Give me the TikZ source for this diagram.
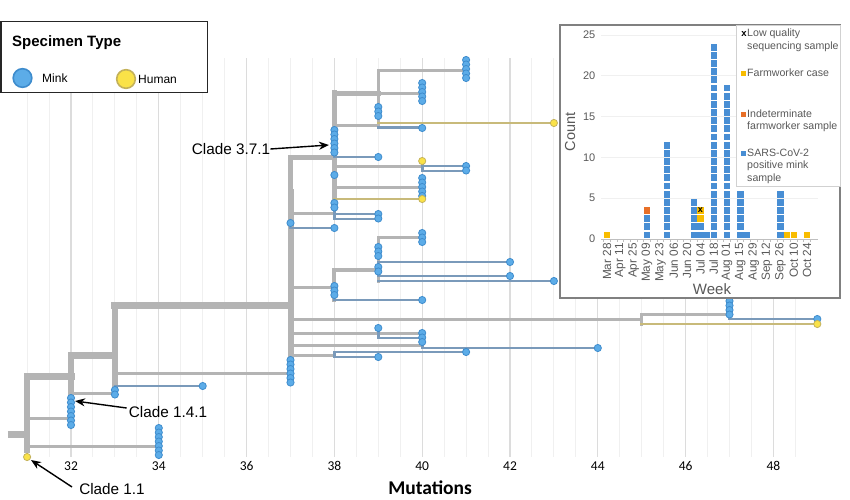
\documentclass[tikz,border=0pt]{standalone}
\usepackage{fontspec}
\setmainfont{Liberation Sans}
\newfontfamily\calibri{Carlito}
\usetikzlibrary{arrows.meta}

\definecolor{branchgray}{RGB}{180,180,180}
\definecolor{minkline}{RGB}{122,154,186}
\definecolor{humanline}{RGB}{200,186,122}
\definecolor{minkfill}{RGB}{92,172,232}
\definecolor{minkdraw}{RGB}{62,140,205}
\definecolor{humanfill}{RGB}{250,226,72}
\definecolor{humandraw}{RGB}{196,178,90}
\definecolor{gridlo}{RGB}{240,240,240}
\definecolor{gridhi}{RGB}{220,220,220}
\definecolor{barblue}{RGB}{72,142,212}
\definecolor{baryellow}{RGB}{248,188,0}
\definecolor{barorange}{RGB}{232,112,40}
\definecolor{charttext}{RGB}{89,89,89}

\tikzset{
  thickbr/.style={draw=branchgray, line width=7pt, line cap=rect},
  midbr/.style={draw=branchgray, line width=5pt, line cap=rect},
  br/.style={draw=branchgray, line width=3pt, line cap=rect},
  minkbr/.style={draw=minkline, line width=2.6pt, line cap=rect},
  humanbr/.style={draw=humanline, line width=2.6pt, line cap=rect},
  minkdot/.style={fill=minkfill, draw=minkdraw, line width=0.8pt},
  humandot/.style={fill=humanfill, draw=humandraw, line width=0.8pt},
  ticklab/.style={font=\calibri\fontsize{13.5}{16}\selectfont, inner sep=0pt},
  cladelab/.style={font=\fontsize{15.3}{18}\selectfont, inner sep=0pt},
  pointer/.style={-{Stealth[length=10pt, width=8pt]}, line width=1.4pt},
  charttxt/.style={font=\fontsize{10.6}{12}\selectfont, text=charttext, inner sep=0pt, anchor=west},
  weeklab/.style={font=\fontsize{11.8}{14}\selectfont, text=charttext, inner sep=0pt, rotate=90, anchor=east}
}

\newcommand{\minkstack}[3]{\foreach \j in {1,...,#3}{\filldraw[minkdot] (#1,{#2+(\j-1)*4.5}) circle (3.6pt);}}
\newcommand{\humantip}[2]{\filldraw[humandot] (#1,#2) circle (3.6pt);}
\newcommand{\barsq}[3]{\fill[#3] ({607+#1*6.67-3.2},{239-(#2-1)*8.16-0.7}) rectangle ++(6.4,-6.8);}

\begin{document}
\begin{tikzpicture}[x=1pt, y=-1pt]
  \useasboundingbox[fill=white] (0,0) rectangle (850,499);

  % tree, x in mutations
  \begin{scope}[x=43.9pt, xshift=-1333.8pt]
    \foreach \m in {31,31.5,...,48.5} \draw[gridlo, line width=1pt] (\m,58) -- (\m,457);
    \foreach \m in {32,34,...,48} {
      \draw[gridhi, line width=1.2pt] (\m,58) -- (\m,457);
      \node[ticklab] (t\m) at (\m,466) {\m};
    }
    \node[font=\calibri\bfseries\fontsize{19.5}{22}\selectfont, inner sep=0pt] (xlab) at (40.18,487.5) {Mutations};

    % backbone
    \draw[thickbr, line cap=butt] (30.56,434) -- (31,434);
    \draw[thickbr, line width=6pt] (31,376) -- (31,450);
    \draw[thickbr] (31,376) -- (32,376);
    \draw[thickbr, line width=6pt] (32,355) -- (32,394);
    \draw[thickbr] (32,355) -- (33,355);
    \draw[thickbr, line width=6pt] (33,305) -- (33,386);
    \draw[thickbr] (33,305) -- (37,305);
    \draw[thickbr, line width=6pt] (37,192) -- (37,355);
    \draw[thickbr, line width=4.5pt] (37,157) -- (37,192);

    % basal tips
    \draw[br] (31,418) -- (32,418);
    \draw[br] (31,446) -- (34,446);
    \draw[br] (32,393) -- (33,393);
    \draw[br] (33,373) -- (37,373);
    \draw[minkbr] (33,386) -- (35,386);

    % clade 3.7.1
    \draw[midbr] (37,157) -- (38,157);
    \draw[midbr, line width=4.5pt] (38,92) -- (38,199);
    \draw[midbr] (38,93) -- (39,93);
    \draw[br] (39,70) -- (39,127);
    \draw[br] (39,70) -- (41,70);
    \draw[br] (39,93) -- (40,93);
    \draw[br] (38,125) -- (39,125);
    \draw[humanbr] (39,123) -- (43,123);
    \draw[minkbr] (39,127.5) -- (40,127.5);
    \draw[minkbr] (38,157) -- (39,157);
    \draw[br] (38,166) -- (40,166);
    \draw[minkbr] (40,161) -- (40,171);
    \draw[minkbr] (40,166) -- (41,166);
    \draw[minkbr] (40,171) -- (41,171);
    \draw[br] (38,187) -- (40,187);
    \draw[humanbr] (38,199) -- (40,199);

    % middle of the trunk
    \draw[br] (37,213) -- (38,213);
    \draw[minkbr] (38,203) -- (38,219);
    \draw[minkbr] (38,214) -- (39,214);
    \draw[minkbr] (38,219) -- (39,219);
    \draw[minkbr] (37,228) -- (38,228);
    \draw[br] (37,287) -- (38,287);
    \draw[br, line width=4pt] (38,270) -- (38,300);
    \draw[br, line width=4pt] (38,270) -- (39,270);
    \draw[br] (39,237) -- (39,281);
    \draw[br] (39,237) -- (40,237);
    \draw[minkbr] (39,262) -- (42,262);
    \draw[minkbr] (39,276) -- (42,276);
    \draw[minkbr] (39,281) -- (43,281);
    \draw[minkbr] (38,300) -- (40,300);

    % long branch
    \draw[br] (37,319) -- (45,319);
    \draw[br] (45,314) -- (45,324);
    \draw[br] (45,314) -- (47,314);
    \draw[minkbr] (47,314) -- (47,319);
    \draw[minkbr] (47,319) -- (49,319);
    \draw[humanbr] (45,324) -- (49,324);

    % lower part of the trunk
    \draw[br] (37,333) -- (40,333);
    \draw[minkbr] (39,328) -- (39,338);
    \draw[minkbr] (39,338) -- (40,338);
    \draw[br] (37,345) -- (40,345);
    \draw[minkbr] (40,345) -- (40,348);
    \draw[minkbr] (40,348) -- (44,348);
    \draw[br] (37,355) -- (38,355);
    \draw[minkbr] (38,352) -- (38,357);
    \draw[minkbr] (38,352) -- (41,352);
    \draw[minkbr] (38,357) -- (39,357);

    % tips
    \minkstack{34}{428}{7}
    \humantip{31}{457}
    \minkstack{32}{398}{7}
    \minkstack{33}{390}{2}
    \minkstack{35}{386}{1}
    \minkstack{37}{360}{6}
    \minkstack{37}{223}{1}
    \minkstack{38}{228}{1}
    \minkstack{38}{203}{2}
    \minkstack{39}{214}{2}
    \minkstack{38}{286}{3}
    \minkstack{40}{300}{1}
    \minkstack{39}{247}{3}
    \minkstack{39}{267}{2}
    \minkstack{40}{233}{3}
    \minkstack{42}{262}{1}
    \minkstack{42}{276}{1}
    \minkstack{43}{281}{1}
    \minkstack{47}{301}{4}
    \minkstack{49}{319}{1}
    \humantip{49}{324}
    \minkstack{39}{328}{1}
    \minkstack{40}{333}{3}
    \minkstack{44}{348}{1}
    \minkstack{41}{352}{1}
    \minkstack{39}{357}{1}
    \minkstack{38}{130}{6}
    \minkstack{41}{60}{5}
    \minkstack{40}{83}{5}
    \minkstack{39}{107}{3}
    \humantip{43}{123}
    \minkstack{40}{128}{1}
    \minkstack{39}{157}{1}
    \humantip{40}{161}
    \minkstack{41}{166}{2}
    \minkstack{38}{175}{1}
    \minkstack{40}{178}{5}
    \humantip{40}{199}
  \end{scope}

  % clade labels
  \coordinate (tip371) at (329,145);
  \coordinate (tip141) at (75,401);
  \coordinate (tip11) at (31,460);
  \node[cladelab] (c371) at (231,149) {Clade 3.7.1};
  \node[cladelab] (c141) at (168,412) {Clade 1.4.1};
  \node[cladelab] (c11) at (112,489) {Clade 1.1};
  \draw[pointer] (c371.east) -- (tip371);
  \draw[pointer] ([xshift=-2pt, yshift=4pt]c141.west) -- (tip141);
  \draw[pointer] ([xshift=-7pt, yshift=2pt]c11.west) -- (tip11);

  % specimen legend
  \draw[fill=white, draw=black!85, line width=1.5pt] (0.8,21.5) rectangle (207.5,92.5);
  \node[font=\bfseries\fontsize{15}{18}\selectfont, inner sep=0pt, anchor=west] (ltitle) at (12,43) {Specimen Type};
  \filldraw[fill=minkfill, draw=minkdraw, line width=1.6pt] (22.5,78) circle (9.3pt);
  \node[font=\fontsize{12}{14}\selectfont, inner sep=0pt, anchor=west] (lmink) at (42,78) {Mink};
  \filldraw[fill=humanfill, draw=humandraw, line width=1.6pt] (126,79) circle (9.3pt);
  \node[font=\fontsize{12}{14}\selectfont, inner sep=0pt, anchor=west] (lhuman) at (138,79) {Human};

  % inset chart
  \draw[fill=white, draw=black!50, line width=1.5pt] (560,25) rectangle (840,298);
  \foreach \c in {5,10,...,25} \draw[gridlo, line width=0.8pt] (601,{239-\c*8.16}) -- (818,{239-\c*8.16});
  \foreach \c in {0,5,...,25} \node[font=\fontsize{11}{13}\selectfont, text=charttext, inner sep=0pt, anchor=east] (yl\c) at (595.5,{239-\c*8.16}) {\c};
  \node[font=\fontsize{14.5}{17}\selectfont, text=charttext, inner sep=0pt, rotate=90] (ylab) at (570,132) {Count};
  \foreach \w/\n in {6/3,9/12,13/5,14/2,15/1,16/24,18/19,20/6,21/1,26/6}
    {\foreach \k in {1,...,\n} {\barsq{\w}{\k}{barblue}}}
  \barsq{0}{1}{baryellow}
  \barsq{14}{3}{baryellow}
  \barsq{14}{4}{baryellow}
  \barsq{27}{1}{baryellow}
  \barsq{28}{1}{baryellow}
  \barsq{30}{1}{baryellow}
  \barsq{6}{4}{barorange}
  \node[font=\bfseries\fontsize{9}{10}\selectfont, inner sep=0pt] (lowq) at (700.4,210.5) {x};
  \draw[black!25, line width=0.8pt] (601,239) -- (818,239);
  \foreach \w in {0,...,31} \draw[black!25, line width=0.6pt] ({607+(\w-0.5)*6.67},239) -- ++(0,3);
  \foreach \lab [count=\i from 0] in {Mar 28,Apr 11,Apr 25,May 09,May 23,Jun 06,Jun 20,Jul 04,Jul 18,Aug 01,Aug 15,Aug 29,Sep 12,Sep 26,Oct 10,Oct 24}
    \node[weeklab] (wk\i) at ({607+\i*13.34},243) {\lab};
  \node[font=\fontsize{15}{18}\selectfont, text=charttext, inner sep=0pt] (xweek) at (712,289) {Week};

  % inset legend
  \draw[fill=white, draw=black!18, line width=0.8pt] (736,25) rectangle (840,186);
  \node[font=\bfseries\fontsize{9.5}{11}\selectfont, inner sep=0pt] (mk1) at (744,34) {x};
  \node[charttxt] (lg1a) at (747,34) {Low quality};
  \node[charttxt] (lg1b) at (747,46.5) {sequencing sample};
  \fill[baryellow] (741,71) rectangle ++(4.5,4.5);
  \node[charttxt] (lg2) at (747,73) {Farmworker case};
  \fill[barorange] (741,112) rectangle ++(4.5,4.5);
  \node[charttxt] (lg3a) at (747,114) {Indeterminate};
  \node[charttxt] (lg3b) at (747,127) {farmworker sample};
  \fill[barblue] (741,151) rectangle ++(4.5,4.5);
  \node[charttxt] (lg4a) at (747,153) {SARS-CoV-2};
  \node[charttxt] (lg4b) at (747,166) {positive mink};
  \node[charttxt] (lg4c) at (747,179) {sample};
\end{tikzpicture}
\end{document}
